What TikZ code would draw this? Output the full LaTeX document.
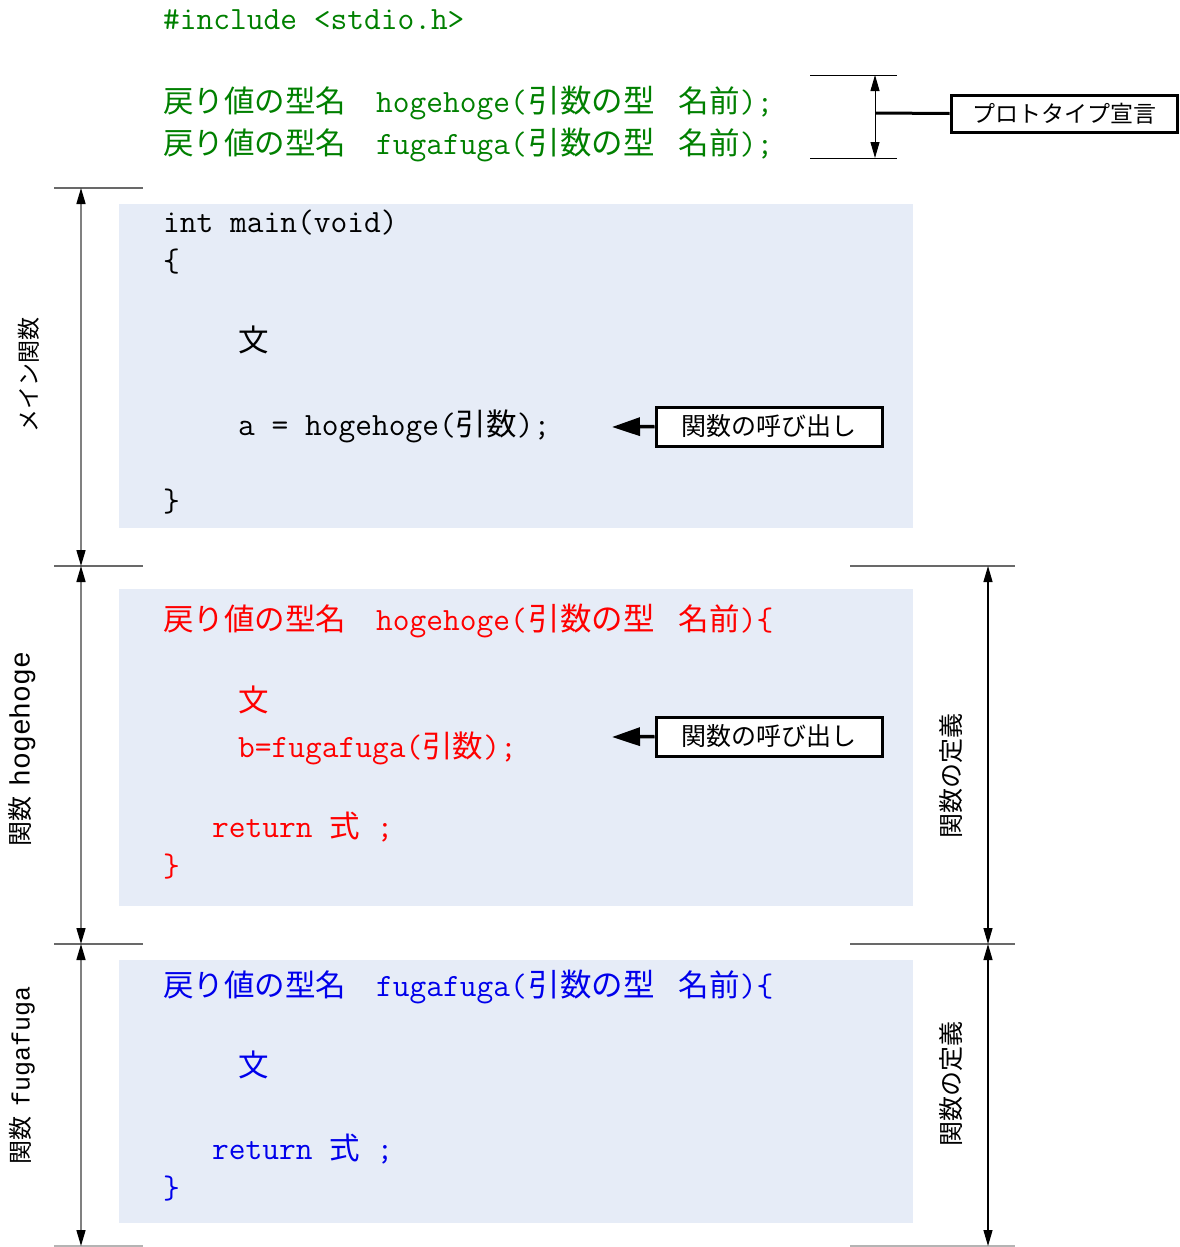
\documentclass[tikz,border=0pt]{standalone}
\usepackage{fontspec}
\newfontfamily\cjk{Noto Sans CJK JP}
\newfontfamily\lmono{Liberation Mono}
\usetikzlibrary{arrows.meta}
\definecolor{cgreen}{RGB}{0,128,0}
\definecolor{cred}{RGB}{255,0,0}
\definecolor{cblue}{RGB}{0,0,235}
\definecolor{bgblue}{RGB}{230,236,247}
\definecolor{dimgray}{RGB}{128,128,128}
\definecolor{limgray}{RGB}{105,105,105}
\newcommand\J[1]{{\fontsize{30.5}{36}\cjk #1}}
\newcommand\Jw[1]{{\fontsize{31.5}{36}\cjk #1}}
\begin{document}
\begin{tikzpicture}[x=1pt,y=-1pt,
  code/.style={anchor=base west,inner sep=0pt,font=\fontsize{32.5}{36}\selectfont\ttfamily},
  dimarrow/.style={draw=dimgray,line width=1.5pt,{Triangle[length=16pt,width=9pt,color=black]}-{Triangle[length=16pt,width=9pt,color=black]}},
  dimarrowk/.style={draw=black,line width=1.2pt,{Triangle[length=16pt,width=9pt]}-{Triangle[length=16pt,width=9pt]}},
  limline/.style={draw=limgray,line width=1.5pt},
  labbox/.style={draw,line width=3pt,fill=white,inner sep=0pt,minimum width=226pt,minimum height=37pt},
  callarrow/.style={line width=3.5pt,-{Triangle[length=28pt,width=18pt]}},
  rot/.style={rotate=90,inner sep=0pt,anchor=center}]
\useasboundingbox (0,0) rectangle (1179,1247);
\fill[white] (0,0) rectangle (1179,1247);
% backgrounds
\fill[bgblue] (119,204) rectangle (913,528);
\fill[bgblue] (119,589) rectangle (913,906);
\fill[bgblue] (119,960) rectangle (913,1223);

% header
\node[code,text=cgreen] (inc) at (163,30) {\#include <stdio.h>};
\node[code,text=cgreen] (pr1) at (163,112) {\J{戻り値の型名}\hspace*{30pt}hogehoge(\hspace*{2pt}\Jw{引数の型}\hspace*{24pt}\J{名前});};
\node[code,text=cgreen] (pr2) at (163,154) {\J{戻り値の型名}\hspace*{30pt}fugafuga(\hspace*{2pt}\Jw{引数の型}\hspace*{24pt}\J{名前});};

% prototype dimension
\coordinate (pt1) at (810,75);  \coordinate (pt1r) at (897,75);
\coordinate (pt2) at (810,158); \coordinate (pt2r) at (897,158);
\coordinate (pa1) at (875,75);  \coordinate (pa2) at (875,158);
\coordinate (pm) at (875,113);
\draw[line width=1pt] (pt1) -- (pt1r);
\draw[line width=1pt] (pt2) -- (pt2r);
\draw[line width=1pt,{Triangle[length=16pt,width=9pt]}-{Triangle[length=16pt,width=9pt]}] (pa1) -- (pa2);
\node[labbox,font=\fontsize{23}{28}\selectfont\cjk] (proto) at (1064,113.5) {プロトタイプ宣言};
\draw[line width=3pt] (pm) -- (proto.west);

% main
\node[code] (m1) at (163,232) {int main(void)};
\node[code] (m2) at (163,271) {\{};
\node[code] (m3) at (238,351) {\J{文}};
\node[code] (m4) at (238,435) {a = hogehoge(\J{引数});};
\node[code] (m5) at (163,511) {\}};
\node[labbox,font=\fontsize{25}{30}\selectfont\cjk,minimum height=39pt] (call1) at (769,426.5) {関数の呼び出し};
\coordinate (c1tip) at (612,427);
\draw[callarrow] (call1.west) -- (c1tip);

% hogehoge
\node[code,text=cred] (h1) at (163,630) {\J{戻り値の型名}\hspace*{30pt}hogehoge(\hspace*{2pt}\Jw{引数の型}\hspace*{24pt}\J{名前})\{};
\node[code,text=cred] (h2) at (238,711) {\J{文}};
\node[code,text=cred] (h3) at (238,757) {b=fugafuga(\J{引数});};
\node[code,text=cred] (h4) at (212,837) {return \J{式} ;};
\node[code,text=cred] (h5) at (163,876) {\}};
\node[labbox,font=\fontsize{25}{30}\selectfont\cjk,minimum height=39pt] (call2) at (769,736.5) {関数の呼び出し};
\coordinate (c2tip) at (612,737);
\draw[callarrow] (call2.west) -- (c2tip);

% fugafuga
\node[code,text=cblue] (f1) at (163,996) {\J{戻り値の型名}\hspace*{30pt}fugafuga(\hspace*{2pt}\Jw{引数の型}\hspace*{24pt}\J{名前})\{};
\node[code,text=cblue] (f2) at (238,1076) {\J{文}};
\node[code,text=cblue] (f3) at (212,1159) {return \J{式} ;};
\node[code,text=cblue] (f4) at (163,1198) {\}};

% left dimension lines
\coordinate (L1a) at (54,188);  \coordinate (L1b) at (143,188);
\coordinate (L2a) at (54,566);  \coordinate (L2b) at (143,566);
\coordinate (L3a) at (54,944);  \coordinate (L3b) at (143,944);
\coordinate (L4a) at (54,1246); \coordinate (L4b) at (143,1246);
\draw[limline] (L1a) -- (L1b);
\draw[limline] (L2a) -- (L2b);
\draw[limline] (L3a) -- (L3b);
\draw[limline,draw=limgray!50] (L4a) -- (L4b);
\coordinate (A1) at (81,188); \coordinate (A2) at (81,566);
\coordinate (A3) at (81,944); \coordinate (A4) at (81,1246);
\draw[dimarrow] (A1) -- (A2);
\draw[dimarrow] (A2) -- (A3);
\draw[dimarrow] (A3) -- (A4);
\node[rot,font=\fontsize{23}{28}\selectfont\cjk] (lmain) at (29,375) {メイン関数};
\node[rot] (lhoge) at (22,749) {{\fontsize{25}{30}\selectfont\cjk 関数}\hspace*{10pt}{\fontsize{28}{30}\selectfont\lmono hogehoge}};
\node[rot] (lfuga) at (22,1075) {{\fontsize{24}{30}\selectfont\cjk 関数}\hspace*{10pt}{\fontsize{25}{30}\selectfont\lmono fugafuga}};

% right dimension lines
\coordinate (R2a) at (850,566);  \coordinate (R2b) at (1015,566);
\coordinate (R3a) at (850,944);  \coordinate (R3b) at (1015,944);
\coordinate (R4a) at (850,1246); \coordinate (R4b) at (1015,1246);
\draw[limline] (R2a) -- (R2b);
\draw[limline] (R3a) -- (R3b);
\draw[limline,draw=limgray!50] (R4a) -- (R4b);
\coordinate (B2) at (988,566); \coordinate (B3) at (988,944); \coordinate (B4) at (988,1246);
\draw[dimarrowk] (B2) -- (B3);
\draw[dimarrowk] (B3) -- (B4);
\node[rot,font=\fontsize{25}{30}\selectfont\cjk] (ldef1) at (951,776) {関数の定義};
\node[rot,font=\fontsize{25}{30}\selectfont\cjk] (ldef2) at (951,1084) {関数の定義};
\end{tikzpicture}
\end{document}
